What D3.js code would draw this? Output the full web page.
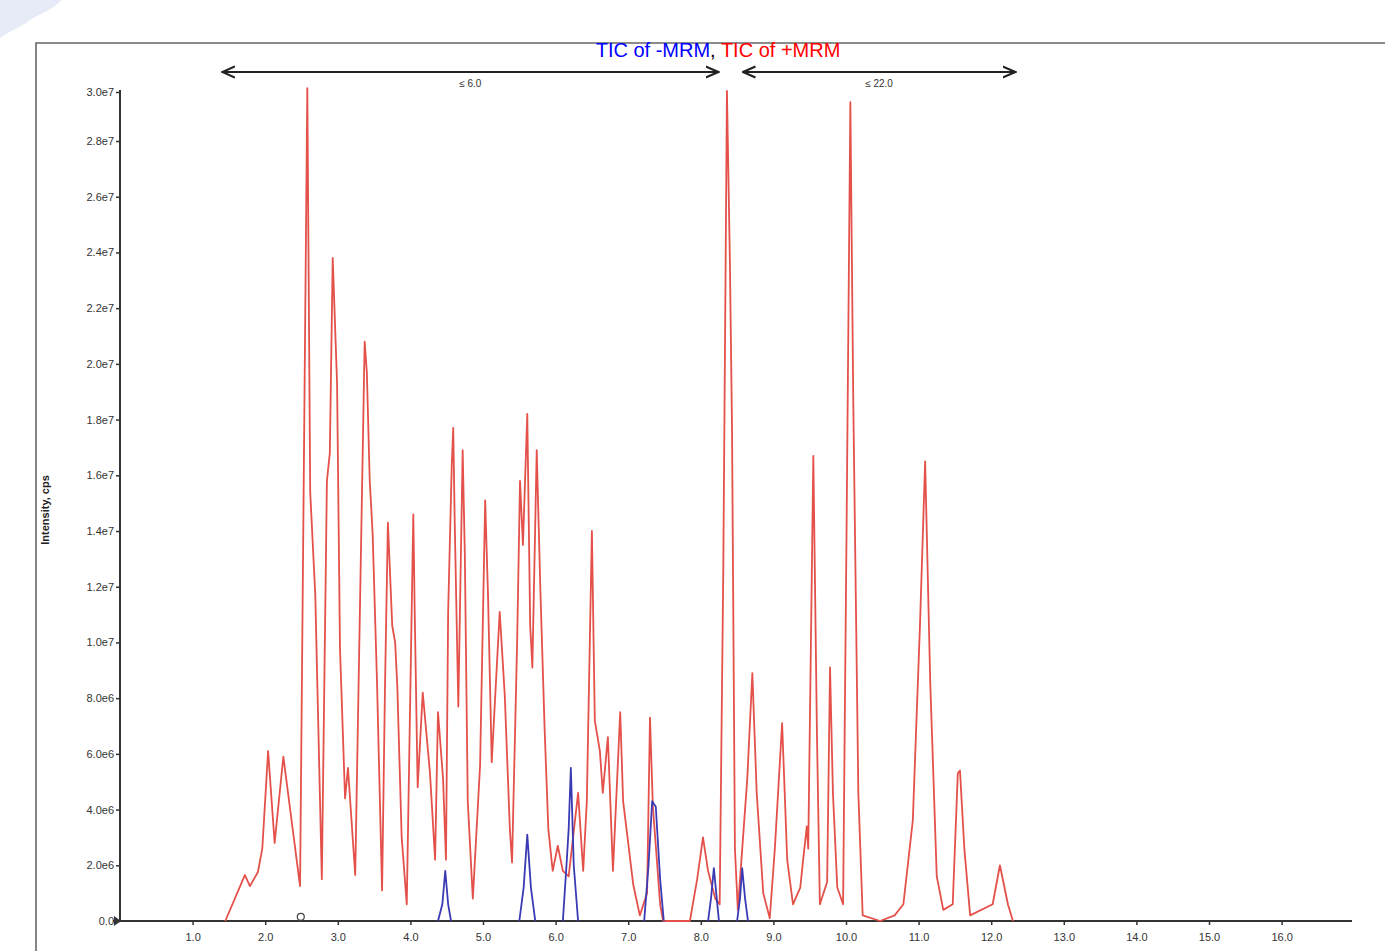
<!DOCTYPE html>
<html>
<head>
<meta charset="utf-8">
<script src="https://cdn.jsdelivr.net/npm/d3@7"></script>
<style>
  html, body { margin: 0; padding: 0; background: #fff; }
  svg { display: block; }
  .tick-label { font-family: "Liberation Sans", Arial, sans-serif; font-size: 11px; fill: #333; }
</style>
</head>
<body>
<svg id="chart" width="1385" height="951"></svg>
<script>
// retention time (min) and intensity (cps)
const plusTime = [1.45, 1.72, 1.79, 1.90, 1.96, 2.04, 2.13, 2.25, 2.48, 2.58, 2.62, 2.69, 2.78, 2.85, 2.89, 2.93, 2.99, 3.03, 3.10, 3.14,
  3.24, 3.37, 3.40, 3.44, 3.48, 3.54, 3.61, 3.65, 3.69, 3.75, 3.79, 3.82, 3.88, 3.95, 4.04, 4.06, 4.10, 4.17, 4.27, 4.34,
  4.38, 4.45, 4.49, 4.52, 4.57, 4.59, 4.61, 4.66, 4.72, 4.75, 4.79, 4.86, 4.96, 5.03, 5.07, 5.10, 5.12, 5.23, 5.30, 5.37,
  5.40, 5.47, 5.51, 5.55, 5.61, 5.65, 5.68, 5.74, 5.79, 5.85, 5.90, 5.96, 6.03, 6.10, 6.18, 6.31, 6.38, 6.43, 6.50, 6.54,
  6.61, 6.65, 6.72, 6.79, 6.89, 6.93, 7.07, 7.16, 7.26, 7.30, 7.34, 7.44, 7.48, 7.85, 7.95, 8.03, 8.10, 8.20, 8.26, 8.31,
  8.36, 8.40, 8.43, 8.47, 8.51, 8.64, 8.71, 8.77, 8.86, 8.95, 9.02, 9.12, 9.19, 9.27, 9.37, 9.41, 9.46, 9.48, 9.55, 9.60,
  9.64, 9.74, 9.78, 9.82, 9.88, 9.96, 10.01, 10.06, 10.10, 10.17, 10.23, 10.47, 10.67, 10.79, 10.92, 11.02, 11.09, 11.16, 11.25, 11.34,
  11.47, 11.54, 11.57, 11.63, 11.71, 12.02, 12.12, 12.23, 12.30];
const plusIntensity = [0, 1.65e6, 1.25e6, 1.76e6, 2.6e6, 6.1e6, 2.8e6, 5.9e6, 1.25e6, 29.9e6, 15.4e6, 11.7e6, 1.5e6, 15.8e6, 16.8e6, 23.8e6, 19.3e6, 9.8e6, 4.4e6, 5.5e6,
  1.65e6, 20.8e6, 19.7e6, 15.8e6, 13.9e6, 8.6e6, 1.1e6, 8.4e6, 14.3e6, 10.6e6, 10.0e6, 8.4e6, 3.0e6, 0.6e6, 14.6e6, 11.0e6, 4.8e6, 8.2e6, 5.3e6, 2.2e6,
  7.5e6, 5.1e6, 2.2e6, 11.1e6, 16.4e6, 17.7e6, 14.4e6, 7.7e6, 16.9e6, 13.1e6, 4.3e6, 0.8e6, 5.6e6, 15.1e6, 11.6e6, 8.1e6, 5.7e6, 11.1e6, 8.1e6, 3.3e6,
  2.1e6, 10.0e6, 15.8e6, 13.5e6, 18.2e6, 10.6e6, 9.1e6, 16.9e6, 11.9e6, 6.8e6, 3.3e6, 1.8e6, 2.7e6, 1.8e6, 1.6e6, 4.6e6, 1.8e6, 4.3e6, 14.0e6, 7.2e6,
  6.1e6, 4.6e6, 6.6e6, 1.8e6, 7.5e6, 4.3e6, 1.3e6, 0.2e6, 1.0e6, 7.3e6, 4.1e6, 0.6e6, 0, 0, 1.5e6, 3.0e6, 1.8e6, 0.8e6, 0.6e6, 12.7e6,
  29.8e6, 23.8e6, 17.7e6, 2.6e6, 0.4e6, 5.1e6, 8.9e6, 4.6e6, 1.0e6, 0.1e6, 2.6e6, 7.1e6, 2.2e6, 0.6e6, 1.2e6, 2.2e6, 3.4e6, 2.6e6, 16.7e6, 6.7e6,
  0.6e6, 1.4e6, 9.1e6, 4.6e6, 1.2e6, 0.6e6, 14.7e6, 29.4e6, 18.7e6, 4.6e6, 0.2e6, 0, 0.2e6, 0.6e6, 3.6e6, 10.7e6, 16.5e6, 8.6e6, 1.6e6, 0.4e6,
  0.6e6, 5.3e6, 5.4e6, 2.6e6, 0.2e6, 0.6e6, 2.0e6, 0.6e6, 0];

const minusTime = [4.38, 4.44, 4.48, 4.52, 4.56, 5.50, 5.56, 5.61, 5.66, 5.72, 6.10, 6.15, 6.18, 6.21, 6.25, 6.31,
  7.22, 7.28, 7.33, 7.38, 7.44, 7.49, 8.10, 8.14, 8.18, 8.22, 8.25, 8.50, 8.54, 8.57, 8.61, 8.65];
const minusIntensity = [0, 0.6e6, 1.8e6, 0.6e6, 0, 0, 1.2e6, 3.1e6, 1.2e6, 0, 0, 2.0e6, 3.3e6, 5.5e6, 2.0e6, 0,
  0, 2.0e6, 4.3e6, 4.1e6, 1.5e6, 0, 0, 0.8e6, 1.9e6, 0.8e6, 0, 0, 0.8e6, 1.9e6, 0.8e6, 0];

const xTicks = [1, 2, 3, 4, 5, 6, 7, 8, 9, 10, 11, 12, 13, 14, 15, 16];
const xTickLabels = ["1.0", "2.0", "3.0", "4.0", "5.0", "6.0", "7.0", "8.0", "9.0", "10.0", "11.0", "12.0", "13.0", "14.0", "15.0", "16.0"];
const yTicks = [0, 2e6, 4e6, 6e6, 8e6, 1e7, 1.2e7, 1.4e7, 1.6e7, 1.8e7, 2e7, 2.2e7, 2.4e7, 2.6e7, 2.8e7, 2.976e7];
const yTickLabels = ["0.0", "2.0e6", "4.0e6", "6.0e6", "8.0e6", "1.0e7", "1.2e7", "1.4e7", "1.6e7", "1.8e7", "2.0e7", "2.2e7", "2.4e7", "2.6e7", "2.8e7", "3.0e7"];

// period windows shown by the arrows at the top
const periodStart = [1.41, 8.58];
const periodEnd = [8.24, 12.33];
const periodLabels = ["\u2264 6.0", "\u2264 22.0"];

const svg = d3.select('#chart');
const x = d3.scaleLinear().domain([0, 17]).range([120, 1354.2]);
const y = d3.scaleLinear().domain([0, 2.976e7]).range([921, 92]);

// faint blob in the top left corner
svg.append('path')
  .attr('d', 'M0,0 L62,0 C50,12 38,14 30,20 C20,28 10,30 0,38 Z')
  .attr('fill', '#e6ebf7');

// frame
svg.append('path')
  .attr('d', 'M36,951 L36,43 L1385,43')
  .attr('fill', 'none')
  .attr('stroke', '#666')
  .attr('stroke-width', 1.6);

// title
const title = svg.append('text')
  .attr('x', 718).attr('y', 57)
  .attr('text-anchor', 'middle')
  .style('font-family', '"Liberation Sans", Arial, sans-serif')
  .style('font-size', '20px');
title.append('tspan').attr('fill', '#0000ff').text('TIC of -MRM');
title.append('tspan').attr('fill', '#000').text(', ');
title.append('tspan').attr('fill', '#ff0000').text('TIC of +MRM');

// period arrows
svg.append('defs').append('marker')
  .attr('id', 'head')
  .attr('viewBox', '0 0 10 10')
  .attr('refX', 9).attr('refY', 5)
  .attr('markerWidth', 7).attr('markerHeight', 7)
  .attr('orient', 'auto-start-reverse')
  .append('path')
  .attr('d', 'M0,1 L9,5 L0,9')
  .attr('fill', 'none')
  .attr('stroke', '#222')
  .attr('stroke-width', 1.6);

periodStart.forEach((s, i) => {
  svg.append('line')
    .attr('x1', x(s)).attr('x2', x(periodEnd[i]))
    .attr('y1', 72).attr('y2', 72)
    .attr('stroke', '#222')
    .attr('stroke-width', 2)
    .attr('marker-start', 'url(#head)')
    .attr('marker-end', 'url(#head)');
  svg.append('text')
    .attr('x', (x(s) + x(periodEnd[i])) / 2)
    .attr('y', 87)
    .attr('text-anchor', 'middle')
    .style('font-family', '"Liberation Sans", Arial, sans-serif')
    .style('font-size', '10px')
    .attr('fill', '#333')
    .text(periodLabels[i]);
});

// axes
const xAxis = d3.axisBottom(x).tickValues(xTicks).tickSize(4)
  .tickFormat((d, i) => xTickLabels[i]);
const gx = svg.append('g').attr('transform', 'translate(0,921)').call(xAxis);
gx.select('.domain').attr('d', 'M113,0 H1352').attr('stroke', '#333').attr('stroke-width', 2);
gx.selectAll('.tick line').attr('stroke', '#333').attr('stroke-width', 1.5);
gx.selectAll('.tick text').attr('class', 'tick-label').attr('y', 12);

const yAxis = d3.axisLeft(y).tickValues(yTicks).tickSize(4)
  .tickFormat((d, i) => yTickLabels[i]);
const gy = svg.append('g').attr('transform', 'translate(120,0)').call(yAxis);
gy.select('.domain').attr('d', 'M0,921 V90').attr('stroke', '#333').attr('stroke-width', 2);
gy.selectAll('.tick line').attr('stroke', '#333').attr('stroke-width', 1.5);
gy.selectAll('.tick text').attr('class', 'tick-label').attr('x', -6);

// little triangle at the origin
svg.append('path').attr('d', 'M114,916 L121,921 L114,926 Z').attr('fill', '#333');

// y axis title
svg.append('text')
  .attr('transform', 'translate(49,510) rotate(-90)')
  .attr('text-anchor', 'middle')
  .style('font-family', '"Liberation Sans", Arial, sans-serif')
  .style('font-size', '11px')
  .style('font-weight', 'bold')
  .attr('fill', '#222')
  .text('Intensity, cps');

// traces
const line = d3.line().x(d => x(d[0])).y(d => y(d[1])).curve(d3.curveLinear);

svg.append('path')
  .attr('d', line(plusTime.map((t, i) => [t, plusIntensity[i]])))
  .attr('fill', 'none')
  .attr('stroke', '#e4514b')
  .attr('stroke-width', 1.8)
  .attr('stroke-linejoin', 'round');

// the negative trace only shows as separate peaks, so split it where it sits on the baseline
const minusSegments = [];
let seg = [];
minusTime.forEach((t, i) => {
  seg.push([t, minusIntensity[i]]);
  if (minusIntensity[i] === 0 && seg.length > 1) {
    minusSegments.push(seg);
    seg = [];
  }
});

svg.selectAll('.minus')
  .data(minusSegments)
  .join('path')
  .attr('class', 'minus')
  .attr('d', line)
  .attr('fill', 'none')
  .attr('stroke', '#3a3ab4')
  .attr('stroke-width', 1.8)
  .attr('stroke-linejoin', 'round');

// small marker on the baseline
svg.append('circle')
  .attr('cx', x(2.49)).attr('cy', y(0.15e6)).attr('r', 3.5)
  .attr('fill', 'none').attr('stroke', '#444').attr('stroke-width', 1.2);
</script>
</body>
</html>
